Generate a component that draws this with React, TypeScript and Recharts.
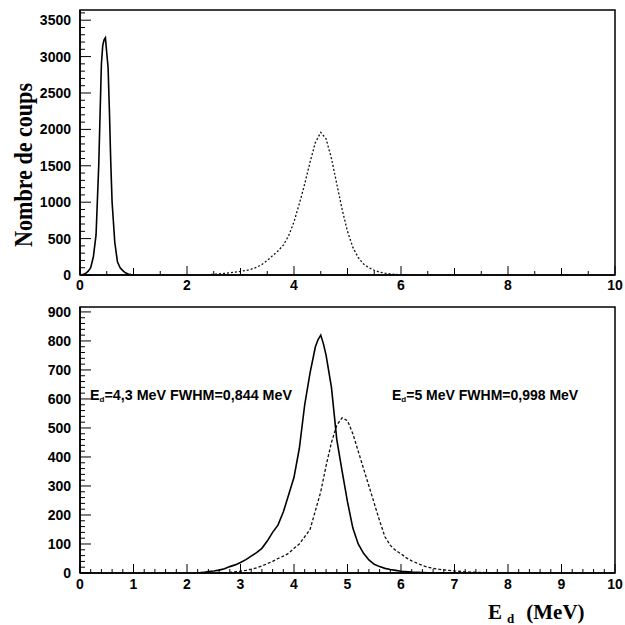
import React from "react";
import { LineChart, Line, XAxis, YAxis, ReferenceArea } from "recharts";

// top panel: low energy peak (solid) and deuteron peak (dashed)
const topLowE = [0, 0.05, 0.1, 0.15, 0.2, 0.25, 0.3, 0.35, 0.375, 0.4, 0.425, 0.45, 0.475, 0.5, 0.525, 0.55, 0.575, 0.6, 0.65, 0.7, 0.75, 0.8, 0.85, 0.9, 0.95, 1.0];
const topLowC = [0, 5, 20, 50, 100, 250, 550, 1500, 2200, 2900, 3150, 3230, 3260, 3050, 2850, 2250, 1550, 1000, 450, 180, 100, 60, 30, 15, 5, 0];

const topHighE = [2.3, 2.4, 2.5, 2.6, 2.7, 2.8, 2.9, 3.0, 3.1, 3.2, 3.3, 3.4, 3.5, 3.6, 3.7, 3.8, 3.9, 4.0, 4.1, 4.2, 4.3, 4.4, 4.5, 4.6, 4.7, 4.8, 4.9, 5.0, 5.1, 5.2, 5.3, 5.4, 5.5, 5.6, 5.7, 5.8, 5.9, 6.0, 6.1];
const topHighC = [0, 5, 10, 15, 22, 30, 40, 50, 62, 80, 105, 145, 200, 265, 330, 410, 540, 730, 980, 1250, 1550, 1820, 1960, 1870, 1600, 1250, 900, 600, 380, 240, 150, 100, 65, 40, 25, 15, 8, 4, 0];

// bottom panel: Ed = 4,3 MeV (solid) and Ed = 5 MeV (dashed)
const bot43E = [2.2, 2.3, 2.4, 2.5, 2.6, 2.7, 2.8, 2.9, 3.0, 3.1, 3.2, 3.3, 3.4, 3.5, 3.6, 3.7, 3.8, 3.9, 4.0, 4.1, 4.2, 4.3, 4.4, 4.45, 4.5, 4.55, 4.6, 4.7, 4.8, 4.9, 5.0, 5.1, 5.2, 5.3, 5.4, 5.5, 5.6, 5.7, 5.8, 5.9, 6.0, 6.2, 6.5, 7.0];
const bot43C = [0, 2, 5, 7, 10, 15, 22, 28, 36, 46, 58, 70, 85, 110, 140, 165, 210, 270, 330, 430, 580, 690, 780, 805, 820, 790, 750, 640, 460, 350, 245, 155, 100, 68, 45, 30, 22, 16, 12, 9, 6, 3, 1, 0];

const bot5E = [2.6, 2.8, 3.0, 3.1, 3.2, 3.3, 3.4, 3.5, 3.6, 3.7, 3.8, 3.9, 4.0, 4.1, 4.2, 4.3, 4.4, 4.5, 4.6, 4.7, 4.8, 4.9, 5.0, 5.1, 5.2, 5.3, 5.4, 5.5, 5.6, 5.7, 5.8, 5.9, 6.0, 6.1, 6.2, 6.3, 6.4, 6.5, 6.6, 6.7, 6.8, 6.9, 7.0, 7.2, 7.5, 8.0];
const bot5C = [0, 2, 6, 9, 13, 18, 24, 32, 40, 50, 58, 68, 85, 100, 125, 150, 215, 280, 370, 450, 510, 535, 525, 480, 420, 360, 300, 240, 180, 125, 95, 78, 66, 52, 42, 34, 26, 20, 16, 13, 11, 9, 7, 4, 2, 0];

const topXLabels = [0, 2, 4, 6, 8, 10];
const topYLabels = [0, 500, 1000, 1500, 2000, 2500, 3000, 3500];
const botXLabels = [0, 1, 2, 3, 4, 5, 6, 7, 8, 9, 10];
const botYLabels = [0, 100, 200, 300, 400, 500, 600, 700, 800, 900];

const toRows = (xs: number[], ys: number[]) => xs.map((e, i) => ({ e, c: ys[i] }));
const steps = (max: number, step: number) =>
  Array.from({ length: Math.floor(max / step + 1e-6) + 1 }, (_, i) => Math.round(i * step * 1000) / 1000);

const tickFont = { fontFamily: "'Liberation Sans', Arial, sans-serif", fontWeight: 700, fontSize: 14, fill: "#000" };

function xTick(labels: number[], mid: number[], textDy: number) {
  return (props: any) => {
    const { x, y, payload } = props;
    const v = payload.value;
    const isLab = labels.some((m) => Math.abs(m - v) < 1e-6);
    const isMid = mid.some((m) => Math.abs(m - v) < 1e-6);
    const len = isLab ? 9 : isMid ? 7 : 4;
    return (
      <g>
        <line x1={x} x2={x} y1={y} y2={y - len} stroke="#000" strokeWidth={1} />
        {isLab && (
          <text x={x} y={y + textDy} textAnchor="middle" {...tickFont}>
            {v}
          </text>
        )}
      </g>
    );
  };
}

function yTick(labels: number[]) {
  return (props: any) => {
    const { x, y, payload } = props;
    const v = payload.value;
    const isLab = labels.some((m) => Math.abs(m - v) < 1e-6);
    const len = isLab ? 11 : 5;
    return (
      <g>
        <line x1={x} x2={x + len} y1={y} y2={y} stroke="#000" strokeWidth={1} />
        {isLab && (
          <text x={x - 9} y={y} dy="0.36em" textAnchor="end" {...tickFont}>
            {v}
          </text>
        )}
      </g>
    );
  };
}

export default function App() {
  const topYMax = 3640;
  const botYMax = 917;
  const serif = "'Liberation Serif', 'Times New Roman', serif";
  const sans = "'Liberation Sans', Arial, sans-serif";

  return (
    <div style={{ position: "absolute", left: 0, top: 0, width: 625, height: 625, background: "#fff" }}>
      <div style={{ position: "absolute", left: 0, top: 0 }}>
        <LineChart width={625} height={300} margin={{ top: 10, right: 10, bottom: 5, left: 30 }}>
          <XAxis
            type="number"
            dataKey="e"
            domain={[0, 10]}
            ticks={steps(10, 0.5)}
            interval={0}
            height={20}
            tickSize={0}
            tickMargin={0}
            tickLine={false}
            axisLine={{ stroke: "#000", strokeWidth: 1.5 }}
            tick={xTick(topXLabels, botXLabels, 15)}
            allowDataOverflow
          />
          <YAxis
            type="number"
            domain={[0, topYMax]}
            ticks={steps(3600, 100)}
            interval={0}
            width={50}
            tickSize={0}
            tickMargin={0}
            tickLine={false}
            axisLine={{ stroke: "#000", strokeWidth: 1.5 }}
            tick={yTick(topYLabels)}
            allowDataOverflow
          />
          <ReferenceArea x1={0} x2={10} y1={0} y2={topYMax} fill="none" stroke="#000" strokeWidth={1.5} ifOverflow="visible" />
          <Line data={toRows(topHighE, topHighC)} dataKey="c" type="linear" stroke="#111" strokeWidth={1.3} strokeDasharray="2 2" dot={false} isAnimationActive={false} />
          <Line data={toRows(topLowE, topLowC)} dataKey="c" type="linear" stroke="#000" strokeWidth={1.6} dot={false} isAnimationActive={false} />
        </LineChart>
      </div>

      <div style={{ position: "absolute", left: 0, top: 297 }}>
        <LineChart width={625} height={300} margin={{ top: 10, right: 10, bottom: 4, left: 30 }}>
          <XAxis
            type="number"
            dataKey="e"
            domain={[0, 10]}
            ticks={steps(10, 0.2)}
            interval={0}
            height={20}
            tickSize={0}
            tickMargin={0}
            tickLine={false}
            axisLine={{ stroke: "#000", strokeWidth: 1.5 }}
            tick={xTick(botXLabels, [], 16)}
            allowDataOverflow
          />
          <YAxis
            type="number"
            domain={[0, botYMax]}
            ticks={steps(900, 20)}
            interval={0}
            width={50}
            tickSize={0}
            tickMargin={0}
            tickLine={false}
            axisLine={{ stroke: "#000", strokeWidth: 1.5 }}
            tick={yTick(botYLabels)}
            allowDataOverflow
          />
          <ReferenceArea x1={0} x2={10} y1={0} y2={botYMax} fill="none" stroke="#000" strokeWidth={1.5} ifOverflow="visible" />
          <Line data={toRows(bot5E, bot5C)} dataKey="c" type="linear" stroke="#111" strokeWidth={1.3} strokeDasharray="3 2" dot={false} isAnimationActive={false} />
          <Line data={toRows(bot43E, bot43C)} dataKey="c" type="linear" stroke="#000" strokeWidth={1.6} dot={false} isAnimationActive={false} />
        </LineChart>
      </div>

      {/* titles and annotations */}
      <svg width={625} height={625} style={{ position: "absolute", left: 0, top: 0, pointerEvents: "none" }}>
        <text
          transform="translate(32,165) rotate(-90)"
          textAnchor="middle"
          fontFamily={serif}
          fontWeight={700}
          fontSize={26}
          textLength={164}
          lengthAdjust="spacingAndGlyphs"
        >
          Nombre de coups
        </text>
        <text x={488} y={619} fontFamily={serif} fontWeight={700} fontSize={21}>
          E
          <tspan dx={5} dy={4} fontSize={13}>d</tspan>
          <tspan dx={12} dy={-4}>(MeV)</tspan>
        </text>
        <text x={90} y={400} fontFamily={sans} fontWeight={700} fontSize={14.3}>
          E<tspan fontSize={8} dy={2}>d</tspan>
          <tspan dy={-2}>=4,3 MeV FWHM=0,844 MeV</tspan>
        </text>
        <text x={392} y={400} fontFamily={sans} fontWeight={700} fontSize={14}>
          E<tspan fontSize={8} dy={2}>d</tspan>
          <tspan dy={-2}>=5 MeV FWHM=0,998 MeV</tspan>
        </text>
      </svg>
    </div>
  );
}
